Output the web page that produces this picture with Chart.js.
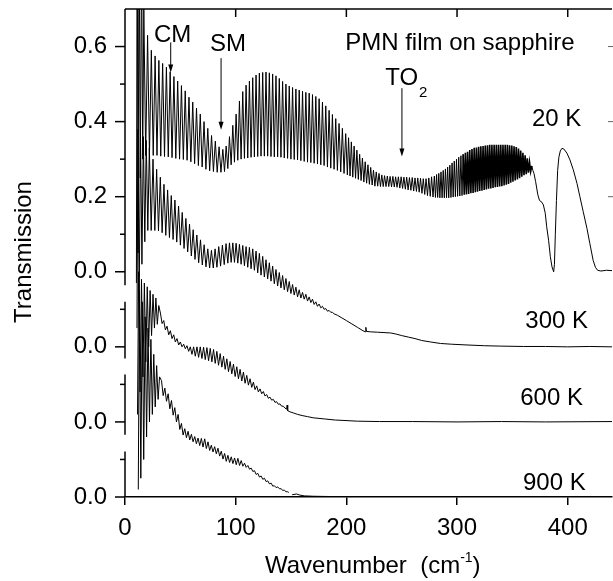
<!DOCTYPE html>
<html><head><meta charset="utf-8">
<script src="https://cdn.jsdelivr.net/npm/chart.js@4/dist/chart.umd.min.js"></script>
<style>html,body{margin:0;padding:0;background:#fff;}#wrap{width:613px;height:581px;}</style>
</head><body><div id="wrap"><canvas id="c" width="613" height="581"></canvas></div>
<script>
const xTicks=[0,100,200,300,400];
const yTickLabels={'6':'0.6','4':'0.4','2':'0.2','0':'0.0','-2':'0.0','-4':'0.0','-6':'0.0'};
const seriesNames=['20 K','300 K','600 K','900 K'];
const seriesOffsets=[0,-0.2,-0.4,-0.6];
// [wavenumber, transmission]
const spec20K=[[10.3,-0.03],[11.0,0.98],[11.8,0.05],[12.7,0.95],[13.8,0.25],[15.0,0.85],[16.0,0.30],
[17.0,0.70],[18.7,0.31],[20.4,0.63],[22.1,0.31],[23.8,0.59],[25.5,0.31],[27.2,0.575],[28.9,0.31],[30.6,0.563],[32.3,0.308],[34.0,0.555],[35.7,0.307],[37.4,0.545],[39.1,0.306],[40.8,0.533],[42.5,0.304],[44.2,0.52],[45.9,0.302],[47.6,0.508],[49.3,0.30],[51.0,0.496],[52.7,0.299],[54.4,0.482],[56.1,0.297],[57.8,0.465],[59.5,0.293],[61.2,0.452],[62.9,0.288],[64.6,0.436],[66.3,0.283],[68.0,0.42],[69.7,0.279],[71.4,0.40],[73.1,0.273],[74.8,0.382],[76.5,0.269],[78.2,0.363],[79.9,0.267],[81.6,0.348],[83.3,0.265],[85.0,0.333],[86.7,0.265],[88.4,0.326],[89.9,0.267],
[91.4,0.335],[92.9,0.275],[94.4,0.36],[95.9,0.285],[97.4,0.39],[98.9,0.292],[100.4,0.42],[101.9,0.297],[103.4,0.455],[104.9,0.30],[106.4,0.48],[107.9,0.302],[109.4,0.497],[110.9,0.303],[112.4,0.508],[113.9,0.305],[115.4,0.517],[116.9,0.306],[118.4,0.524],[119.9,0.307],[121.4,0.529],[122.9,0.308],[124.4,0.531],[125.9,0.308],[127.4,0.532],[128.9,0.308],[130.4,0.53],[131.9,0.307],[133.4,0.527],[134.9,0.306],[136.4,0.522],[137.9,0.306],[139.4,0.515],[140.9,0.305],[142.4,0.507],[143.9,0.303],[145.4,0.50],[146.9,0.302],[148.4,0.495],[149.9,0.30],[151.4,0.491],[152.9,0.299],[154.4,0.487],[155.9,0.298],[157.4,0.484],[158.9,0.296],[160.4,0.481],[161.9,0.294],[163.4,0.478],[164.9,0.292],[166.4,0.476],[167.9,0.291],[169.4,0.472],[170.9,0.289],[172.4,0.467],[173.9,0.287],[175.4,0.461],[176.9,0.285],[178.4,0.452],[179.9,0.283],[181.4,0.442],[182.9,0.279],[184.4,0.43],[185.9,0.276],[187.4,0.419],[188.9,0.273],[190.4,0.408],[191.9,0.27],[193.4,0.395],[194.9,0.266],[196.4,0.382],[197.9,0.262],[199.4,0.368],[200.9,0.258],
[202.0,0.357],[203.3,0.255],[204.5,0.346],[205.8,0.252],[207.0,0.335],[208.3,0.249],[209.5,0.324],[210.8,0.246],[212.0,0.313],[213.3,0.243],[214.5,0.303],[215.8,0.239],[217.0,0.293],[218.3,0.236],[219.5,0.285],[220.8,0.233],[222.0,0.278],[223.3,0.231],[224.5,0.271],[225.8,0.228],[227.0,0.266],[228.3,0.228],[229.5,0.262],[230.8,0.227],[232.0,0.258],[233.3,0.227],[234.5,0.256],[235.8,0.227],[237.0,0.255],[238.3,0.227],[239.5,0.254],[240.8,0.226],[242.0,0.254],[243.3,0.226],[244.5,0.253],[245.8,0.225],[247.0,0.253],[248.3,0.223],[249.5,0.253],[250.8,0.222],[252.0,0.252],[253.3,0.22],[254.5,0.252],[255.8,0.218],[257.0,0.251],[258.3,0.217],[259.5,0.251],[260.8,0.215],[262.0,0.25],[263.3,0.214],[264.5,0.25],[265.8,0.212],[267.0,0.249],[268.3,0.209],[269.5,0.248],[270.8,0.206],[272.0,0.248],[273.3,0.203],[274.5,0.25],[275.8,0.201],[277.0,0.253],[278.3,0.199],
[279.5,0.255],[280.5,0.198],[281.5,0.259],[282.5,0.198],[283.5,0.262],[284.5,0.197],[285.5,0.266],[286.5,0.197],[287.5,0.27],[288.5,0.197],[289.5,0.274],[290.5,0.197],[291.5,0.279],[292.5,0.197],[293.5,0.284],[294.5,0.198],[295.5,0.29],[296.5,0.199],[297.5,0.295],[298.5,0.2],[299.5,0.30],[300.5,0.201],[301.5,0.305],[302.5,0.202],[303.5,0.309],[304.5,0.203],[305.5,0.313],[306.5,0.205],[307.5,0.317],[308.5,0.206],[309.5,0.32],[310.5,0.207],[311.5,0.324],[312.5,0.209],[313.5,0.327],[314.5,0.21],[315.5,0.33],[316.5,0.212],[317.5,0.331],[318.5,0.213],[319.5,0.333],[320.5,0.215],[321.5,0.334],[322.5,0.216],[323.5,0.335],[324.5,0.218],[325.5,0.336],[326.5,0.219],[327.5,0.337],[328.5,0.221],[329.5,0.338],[330.5,0.222],[331.5,0.338],[332.5,0.223],[333.5,0.338],[334.5,0.225],[335.5,0.338],[336.5,0.226],[337.5,0.338],[338.5,0.227],[339.5,0.338],[340.5,0.228],[341.5,0.338],[342.5,0.23],[343.5,0.338],[344.5,0.232],[345.5,0.338],[346.5,0.234],[347.5,0.337],[348.5,0.237],[349.5,0.336],[350.5,0.24],[351.5,0.334],[352.5,0.243],[353.5,0.332],[354.5,0.246],[355.5,0.328],[356.5,0.249],[357.5,0.323],[358.5,0.253],[359.5,0.317],[360.5,0.257],[361.5,0.31],[362.5,0.26],[363.5,0.302],[364.5,0.264],[365.5,0.292],[366.5,0.267],[367.5,0.282],[368.5,0.27],
[369.5,0.262],[371,0.24],[373,0.205],[374.5,0.19],[376.7,0.185],[378,0.178],[379.7,0.156],[381,0.12],[382.7,0.084],[384.3,0.04],[385.8,0.013],[387.3,0.0],[388,0.02],[388.8,0.1],[389.8,0.19],[390.9,0.27],[392,0.305],[393.3,0.322],[394.8,0.329],[396.5,0.327],[399.3,0.316],[402,0.298],[405,0.272],[408.4,0.235],[411,0.2],[414,0.16],[417.4,0.115],[420,0.075],[423,0.03],[425,0.012],[427,0.004],[430,0.002],[435,0.004],[440,0.003]];
const spec300K=[[10.8,0.05],[11.7,0.58],[12.8,0.12],[14.0,0.57],[15.3,0.22],[16.6,0.56],[17.9,0.28],[19.2,0.55],[20.6,0.31],
[22.0,0.53],[23.65,0.31],[25.3,0.50],[26.95,0.31],[28.6,0.473],[30.25,0.309],[31.9,0.452],[33.55,0.304],[35.2,0.433],[36.85,0.297],[38.5,0.418],[40.15,0.291],[41.8,0.403],[43.45,0.286],[45.1,0.391],[46.75,0.279],[48.4,0.375],[50.05,0.271],[51.7,0.358],[53.35,0.262],[55.0,0.342],[56.65,0.253],[58.3,0.327],[59.95,0.242],[61.6,0.312],[63.25,0.233],[64.9,0.298],[66.55,0.224],[68.2,0.285],[69.85,0.218],[71.5,0.272],[73.15,0.213],[74.8,0.261],[76.45,0.21],[78.1,0.257],[79.75,0.21],[81.4,0.261],[83.05,0.212],[84.7,0.267],[86.35,0.215],[88.0,0.271],[89.65,0.219],[91.3,0.275],[92.9,0.223],
[94.4,0.277],[95.9,0.225],[97.4,0.277],[98.9,0.225],[100.4,0.276],[101.9,0.223],[103.4,0.273],[104.9,0.22],[106.4,0.27],[107.9,0.216],[109.4,0.267],[110.9,0.212],[112.4,0.265],[113.9,0.208],[115.4,0.261],[116.9,0.204],[118.4,0.255],[119.9,0.197],[121.4,0.249],[122.9,0.191],[124.4,0.241],[125.9,0.186],[127.4,0.232],[128.9,0.181],[130.4,0.224],[131.9,0.175],[133.4,0.215],[134.9,0.168],[136.4,0.206],[137.9,0.162],[139.4,0.198],[140.9,0.157],[142.4,0.19],[143.9,0.152],[145.4,0.182],[146.9,0.147],[148.4,0.174],[149.9,0.142],[151.4,0.166],[152.9,0.138],[154.4,0.159],[155.9,0.133],[157.4,0.152],[158.9,0.13],[160.4,0.145],[161.9,0.127],[163.4,0.14],[164.9,0.122],[166.4,0.133],[167.9,0.118],[169.4,0.127],[170.9,0.113],[172.4,0.12],[173.9,0.108],[175.4,0.114],[176.9,0.104],[178.4,0.108],[179.9,0.1],[181.4,0.102],[182.9,0.095],[184.4,0.097],[185.9,0.092],[187.4,0.092],[188.9,0.088],
[192,0.084],[196,0.077],[200,0.07],[205,0.061],[210,0.052],[215,0.043],[217.2,0.04],[217.6,0.052],[218.2,0.041],[222,0.04],[228,0.039],[234,0.038],[240,0.037],[245,0.034],[250,0.03],[256,0.026],[262,0.022],[268,0.017],[276,0.013],[285,0.009],[295,0.007],[309,0.005],[325,0.003],[339,0.002],[360,0.001],[380,0.001],[400,0.0],[420,0.001],[440,0.0]];
const spec600K=[[11.3,0.02],[12.3,0.40],[13.6,0.08],[14.9,0.38],[16.2,0.12],[17.5,0.37],[18.8,0.16],[20.1,0.36],[21.4,0.20],[22.7,0.35],[24.0,0.23],[25.3,0.34],[26.6,0.25],[27.9,0.33],[29.2,0.26],[30.5,0.31],
[32.0,0.29],[33.5,0.262],[35.0,0.27],[36.5,0.245],[38.0,0.255],[39.5,0.232],[41.0,0.243],[42.5,0.222],[44.0,0.232],[45.5,0.213],[47.0,0.222],[48.5,0.205],[50.0,0.213],[51.5,0.2],[53.0,0.207],[54.5,0.195],[56.0,0.203],[57.5,0.188],[59.0,0.2],[60.5,0.18],[62.0,0.2],[63.5,0.175],[65.0,0.2],[66.5,0.172],[68.0,0.2],[69.5,0.169],[71.0,0.199],[72.5,0.166],[74.0,0.198],[75.5,0.163],[77.0,0.196],[78.5,0.16],[80.0,0.193],[81.5,0.156],[83.0,0.188],[84.5,0.151],[86.0,0.182],[87.5,0.146],[89.0,0.175],[90.5,0.14],[92.0,0.168],[93.5,0.134],[95.0,0.161],[96.5,0.128],[98.0,0.154],[99.5,0.121],[101.0,0.147],[102.5,0.115],[104.0,0.14],[105.5,0.109],[107.0,0.133],[108.5,0.103],[110.0,0.124],[111.5,0.098],[113.0,0.115],[114.5,0.092],[116.0,0.106],[117.5,0.086],[119.0,0.096],[120.5,0.08],[122.0,0.088],[123.5,0.075],[125.0,0.081],[126.5,0.069],[128.0,0.073],[129.5,0.063],[131.0,0.066],[132.5,0.058],[134.0,0.06],[135.5,0.052],[137.0,0.054],[138.5,0.047],[140.0,0.048],[141.5,0.042],[143.0,0.042],[144.5,0.037],
[146.0,0.034],[146.5,0.045],[147.0,0.03],[149,0.027],[152,0.024],[156,0.02],[160,0.017],[165,0.014],[170,0.011],[180,0.008],[190,0.005],[197,0.004],[210,0.002],[230,0.001],[260,0.001],[300,0.0],[340,0.001],[380,0.0],[440,0.001]];
const spec900K=[[12.0,0.02],[13.0,0.55],[14.3,0.05],[15.6,0.52],[16.9,0.10],[18.2,0.48],[19.5,0.16],[20.8,0.45],[22.1,0.20],[23.4,0.42],[24.7,0.22],[26.0,0.38],[27.3,0.24],[28.6,0.35],[29.9,0.26],[31.2,0.32],
[33.0,0.31],[34.5,0.27],[36.0,0.29],[37.5,0.255],[39.0,0.275],[40.5,0.235],[42.0,0.257],[43.5,0.218],[45.0,0.238],[46.5,0.2],[48.0,0.22],[49.5,0.18],[51.0,0.196],[52.5,0.165],[54.0,0.182],[55.5,0.158],[57.0,0.175],[58.5,0.152],[60.0,0.167],[61.5,0.147],[63.0,0.161],[64.5,0.142],[66.0,0.157],[67.5,0.137],[69.0,0.156],[70.5,0.133],[72.0,0.155],[73.5,0.129],[75.0,0.147],[76.5,0.124],[78.0,0.138],[79.5,0.12],[81.0,0.134],[82.5,0.115],[84.0,0.13],[85.5,0.109],[87.0,0.122],[88.5,0.101],[90.0,0.116],[91.5,0.095],[93.0,0.111],[94.5,0.092],[96.0,0.107],[97.5,0.089],[99.0,0.104],[100.5,0.086],[102.0,0.103],[103.5,0.084],[105.0,0.097],[106.5,0.082],[108.0,0.09],[109.5,0.079],[111.0,0.084],[112.5,0.074],[114.0,0.077],[115.5,0.068],[117.0,0.07],[118.5,0.06],[120.0,0.063],[121.5,0.053],[123.0,0.056],[124.5,0.047],[126.0,0.05],[127.5,0.041],[129.0,0.043],[130.5,0.035],[132.0,0.037],[133.5,0.029],[135.0,0.03],[136.5,0.025],[138.0,0.027],[139.5,0.022],[141.0,0.022],[142.5,0.018],[144.0,0.018],[145.5,0.014],[147.0,0.014],[148.0,0.012],[149.0,null],[151,0.006],[155,0.008],[158,0.005],[162,0.003],[170,0.002],[190,0.001],[220,0.0],[260,0.001],[300,0.0],[350,0.001],[400,0.0],[440,0.001]];

const FONT='"Liberation Sans", Arial, Helvetica, sans-serif';
const yAxisSegments=[[-0.036,0.7],[-0.231,-0.08],[-0.434,-0.274],[-0.6,-0.479]];
const rightTicks=[0.2,0.4,0.6];
const denseBand=[305,368];
const annotations=[
 {t:'CM',x:26.2,y:0.613},{t:'SM',x:76.9,y:0.587},{t:'TO',x:235.1,y:0.498,sub:'2'},
 {t:'PMN film on sapphire',x:198.9,y:0.591},
 {t:'20 K',x:367.7,y:0.387},{t:'300 K',x:361.7,y:-0.151},{t:'600 K',x:357.1,y:-0.355},{t:'900 K',x:359.6,y:-0.582}];
const arrows=[{x:41.3,y0:0.611,y1:0.531},{x:86.8,y0:0.569,y1:0.378},{x:250.2,y0:0.489,y1:0.307}];

const specs=[spec20K,spec300K,spec600K,spec900K];
const datasets=specs.map((s,i)=>({label:seriesNames[i],
 data:s.map(p=>({x:p[0],y:p[1]===null?null:p[1]+seriesOffsets[i]})),
 borderColor:'#000',borderWidth:1,pointRadius:0,tension:0,spanGaps:false,fill:false,
 segment:i===0?{borderWidth:c=>(c.p0.parsed.x>=denseBand[0]&&c.p1.parsed.x<=denseBand[1])?1.6:1}:undefined}));

const framePlugin={id:'frame',afterDatasetsDraw(chart){
 const ctx=chart.ctx,a=chart.chartArea,xs=chart.scales.x,ys=chart.scales.y;
 const L=(x0,y0,x1,y1)=>{ctx.beginPath();ctx.moveTo(x0,y0);ctx.lineTo(x1,y1);ctx.stroke();};
 ctx.save();ctx.strokeStyle='#000';ctx.fillStyle='#000';ctx.lineWidth=1.5;
 L(a.left,a.top,a.right,a.top);
 xTicks.forEach(v=>{if(v>0){const px=xs.getPixelForValue(v);L(px,a.top,px,a.top+8);}});
 yAxisSegments.forEach(s=>L(a.left,ys.getPixelForValue(s[1]),a.left,ys.getPixelForValue(s[0])));
 for(let i=-6;i<=6;i++){const py=ys.getPixelForValue(i/10);const len=(i%2===0)?10:5;L(a.left-len,py,a.left,py);}
 ctx.lineWidth=1;ctx.strokeStyle='#666';
 rightTicks.forEach(v=>{const py=ys.getPixelForValue(v);L(a.right-4,py,a.right+1,py);});
 ctx.strokeStyle='#000';
 arrows.forEach(ar=>{const px=xs.getPixelForValue(ar.x),p0=ys.getPixelForValue(ar.y0),p1=ys.getPixelForValue(ar.y1);
  L(px,p0,px,p1-6);ctx.beginPath();ctx.moveTo(px-2.5,p1-8);ctx.lineTo(px+2.5,p1-8);ctx.lineTo(px,p1);ctx.closePath();ctx.fill();});
 ctx.textBaseline='alphabetic';ctx.textAlign='left';
 annotations.forEach(an=>{const px=xs.getPixelForValue(an.x),py=ys.getPixelForValue(an.y);ctx.font='24px '+FONT;ctx.fillText(an.t,px,py);
  if(an.sub){const w=ctx.measureText(an.t).width;ctx.font='15px '+FONT;ctx.fillText(an.sub,px+w+1,py+12);}});
 ctx.font='24px '+FONT;
 const t1='Wavenumber  (cm',t2='-1',t3=')';
 let x0=265;const yb=573;
 ctx.fillText(t1,x0,yb);x0+=ctx.measureText(t1).width;
 ctx.font='14px '+FONT;ctx.fillText(t2,x0,yb-11);x0+=ctx.measureText(t2).width;
 ctx.font='24px '+FONT;ctx.fillText(t3,x0,yb);
 ctx.save();ctx.translate(24,252);ctx.rotate(-Math.PI/2);ctx.textAlign='center';ctx.textBaseline='middle';ctx.fillText('Transmission',0,0);ctx.restore();
 ctx.restore();
}};

new Chart(document.getElementById('c'),{type:'line',data:{datasets},
 options:{responsive:false,animation:false,devicePixelRatio:1,
  layout:{padding:{top:9,right:1,left:0,bottom:0}},
  plugins:{legend:{display:false},tooltip:{enabled:false}},
  scales:{
   x:{type:'linear',min:0,max:440,
    afterBuildTicks(s){s.ticks=xTicks.map(v=>({value:v}));},
    afterFit(s){s.height=84;s.paddingLeft=0;s.paddingRight=0;},
    grid:{display:true,drawOnChartArea:false,drawTicks:true,tickLength:8,color:'#000',lineWidth:1.5},
    border:{display:true,color:'#000',width:1.5},
    ticks:{padding:9,color:'#000',font:{family:FONT,size:24},maxRotation:0,autoSkip:false}},
   y:{type:'linear',min:-0.6,max:0.7,
    afterBuildTicks(s){const t=[];for(let i=-6;i<=6;i++)t.push({value:i/10});s.ticks=t;},
    afterFit(s){s.width=125;s.paddingTop=0;s.paddingBottom=0;},
    grid:{display:false,drawTicks:false},border:{display:false},
    ticks:{padding:18,color:'#000',autoSkip:false,font:{family:FONT,size:24},
     callback:(v)=>yTickLabels[String(Math.round(v*10))]||''}}
  }},
 plugins:[framePlugin]});
</script></body></html>
